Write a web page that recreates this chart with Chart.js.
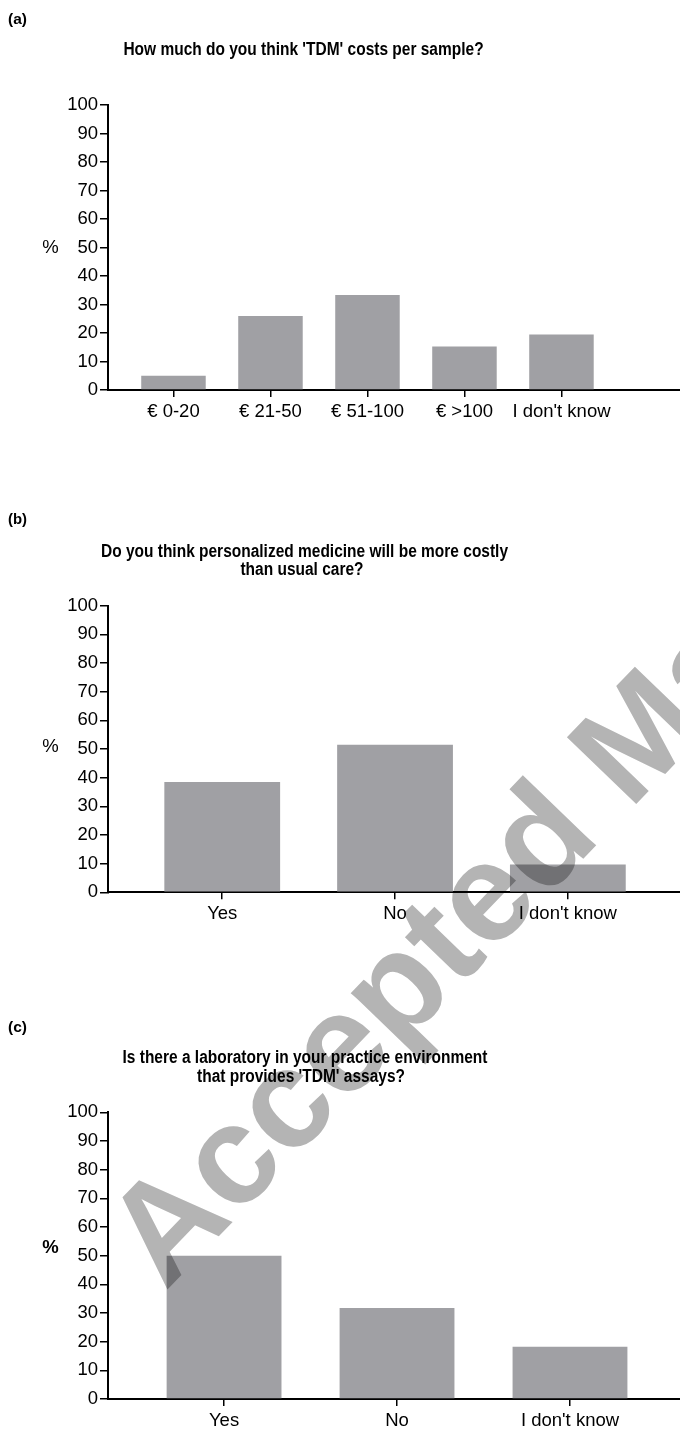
<!DOCTYPE html>
<html>
<head>
<meta charset="utf-8">
<script src="https://cdn.jsdelivr.net/npm/chart.js@4.4.1/dist/chart.umd.min.js"></script>
<style>
  html, body { margin: 0; padding: 0; background: #fff; }
  body { width: 680px; height: 1432px; overflow: hidden; position: relative; }
  canvas.panel { position: absolute; left: 0; }
  #stamp { position: absolute; left: 0; top: 0; mix-blend-mode: multiply; pointer-events: none; }
</style>
</head>
<body>
<canvas id="chartA" class="panel" width="680" height="440" style="top:0px"></canvas>
<canvas id="chartB" class="panel" width="680" height="460" style="top:480px"></canvas>
<canvas id="chartC" class="panel" width="680" height="472" style="top:960px"></canvas>
<canvas id="stamp" width="680" height="1432"></canvas>
<script>
// Survey answers, percentage of respondents per option
const costCategories = ['€ 0-20', '€ 21-50', '€ 51-100', '€ >100', "I don't know"];
const costPercent = [5.0, 26.0, 33.3, 15.3, 19.5];

const costlyCategories = ['Yes', 'No', "I don't know"];
const costlyPercent = [38.5, 51.5, 9.7];

const labCategories = ['Yes', 'No', "I don't know"];
const labPercent = [50.0, 31.7, 18.2];

const percentTicks = [0, 10, 20, 30, 40, 50, 60, 70, 80, 90, 100];

const titleA = ["How much do you think 'TDM' costs per sample?"];
const titleB = ['Do you think personalized medicine will be more costly', 'than usual care?'];
const titleC = ['Is there a laboratory in your practice environment', "that provides 'TDM' assays?"];

const BAR = '#a0a0a4';
const FAMILY = '"Liberation Sans", Arial, Helvetica, sans-serif';
const tickFont = { family: FAMILY, size: 18.5 };

// Panel letter, question title and unit label drawn around the plot area
const panelText = {
  id: 'panelText',
  afterDraw(chart, args, o) {
    const ctx = chart.ctx;
    ctx.save();
    ctx.fillStyle = '#000';
    ctx.textBaseline = 'alphabetic';
    ctx.textAlign = 'left';
    ctx.font = 'bold 15.5px ' + FAMILY;
    ctx.fillText(o.letter, 8, o.letterY, 19);

    ctx.font = 'bold 17.5px ' + FAMILY;
    ctx.textAlign = 'center';
    o.title.forEach((line, i) => {
      const w = ctx.measureText(line).width;
      ctx.fillText(line, o.titleX[i], o.titleY + i * 18.3, w * 0.885);
    });

    ctx.font = (o.unitBold ? 'bold ' : '') + '18.5px ' + FAMILY;
    ctx.textBaseline = 'middle';
    ctx.fillText('%', 50.5, o.unitY);
    ctx.restore();
  }
};

function makePanel(id, cats, values, cfg) {
  return new Chart(document.getElementById(id), {
    type: 'bar',
    data: {
      datasets: [{
        data: cats.map((c, i) => ({ x: i, y: values[i] })),
        backgroundColor: BAR,
        borderWidth: 0,
        barPercentage: cfg.barPct,
        categoryPercentage: 1
      }]
    },
    options: {
      responsive: false,
      animation: false,
      devicePixelRatio: 1,
      layout: { padding: { top: cfg.top, left: 0, right: 0, bottom: 0 } },
      plugins: {
        legend: { display: false },
        tooltip: { enabled: false },
        panelText: cfg.text
      },
      scales: {
        x: {
          type: 'linear',
          offset: false,
          min: cfg.xMin,
          max: cfg.xMax,
          afterBuildTicks: s => { s.ticks = cats.map((c, i) => ({ value: i })); },
          afterFit: s => { s.height = cfg.xHeight; },
          ticks: {
            callback: v => cats[v],
            autoSkip: false,
            maxRotation: 0,
            color: '#000',
            font: tickFont,
            padding: 4
          },
          grid: { offset: false, drawOnChartArea: false, tickLength: 7, color: '#000', lineWidth: 1.5 },
          border: { color: '#000', width: 2 }
        },
        y: {
          min: 0,
          max: 100,
          afterBuildTicks: s => { s.ticks = percentTicks.map(v => ({ value: v })); },
          afterFit: s => { s.width = 108; },
          ticks: { color: '#000', font: tickFont, padding: 2 },
          grid: { drawOnChartArea: false, tickLength: 8, color: '#000', lineWidth: 1.5 },
          border: { color: '#000', width: 2 }
        }
      }
    },
    plugins: [panelText]
  });
}

makePanel('chartA', costCategories, costPercent, {
  top: 105, xHeight: 50, xMin: -0.675, xMax: 5.222, barPct: 0.665,
  text: { letter: '(a)', letterY: 23.5, title: titleA, titleX: [303.5], titleY: 54.5, unitY: 247.5, unitBold: false }
});

makePanel('chartB', costlyCategories, costlyPercent, {
  top: 125.7, xHeight: 47.7, xMin: -0.661, xMax: 2.649, barPct: 0.67,
  text: { letter: '(b)', letterY: 43.8, title: titleB, titleX: [304.5, 302], titleY: 76.7, unitY: 266.5, unitBold: false }
});

makePanel('chartC', labCategories, labPercent, {
  top: 152.3, xHeight: 33, xMin: -0.671, xMax: 2.636, barPct: 0.664,
  text: { letter: '(c)', letterY: 71.8, title: titleC, titleX: [305, 301], titleY: 103.3, unitY: 288, unitBold: true }
});

// Diagonal manuscript stamp, multiplied over the figure
const stamp = document.getElementById('stamp').getContext('2d');
stamp.save();
stamp.translate(165, 1292);
stamp.rotate(-46 * Math.PI / 180);
stamp.font = 'bold 140px ' + FAMILY;
stamp.fillStyle = '#b4b4b4';
stamp.fillText('Accepted Manuscript', 0, 0);
stamp.restore();
</script>
</body>
</html>
